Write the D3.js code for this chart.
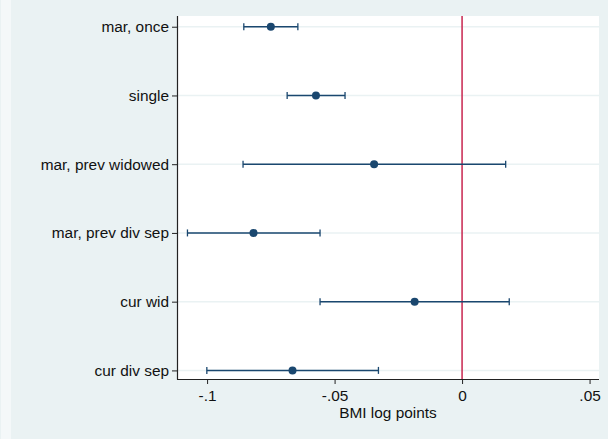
<!DOCTYPE html>
<html>
<head>
<meta charset="utf-8">
<script src="https://cdn.jsdelivr.net/npm/d3@7"></script>
<style>
  body { margin: 0; background: #eaf2f3; }
  svg { display: block; }
</style>
</head>
<body>
<svg id="chart"></svg>
<script>
// Coefficients (BMI log points) with 95% CI
const categories = ['mar, once', 'single', 'mar, prev widowed', 'mar, prev div sep', 'cur wid', 'cur div sep'];
const estimates = [-0.0750, -0.0573, -0.0345, -0.0818, -0.0186, -0.0665];
const ciLow = [-0.0856, -0.0686, -0.0859, -0.1077, -0.0557, -0.1001];
const ciHigh = [-0.0644, -0.0459, 0.0171, -0.0557, 0.0185, -0.0328];
const xTicks = [-0.1, -0.05, 0, 0.05];
const xTickLabels = ['-.1', '-.05', '0', '.05'];

const WIDTH = 608, HEIGHT = 439;
const PLOT = { left: 177, right: 599, top: 16, bottom: 379 };
const BG = '#eaf2f3';
const NAVY = '#1a476f';
const RED = '#c8254f';
const FONT = '"Liberation Sans", Arial, sans-serif';
const FONT_SIZE = '15.4px';

const svg = d3.select('#chart').attr('width', WIDTH).attr('height', HEIGHT);

svg.append('rect').attr('width', WIDTH).attr('height', HEIGHT).attr('fill', BG);
svg.append('rect').attr('x', 1).attr('y', 0).attr('width', 10).attr('height', HEIGHT).attr('fill', '#f4f8f9');

const x = d3.scaleLinear().domain([-0.1118, 0.0537]).range([PLOT.left, PLOT.right]);
const y = d3.scaleLinear().domain([0.844, 6.125]).range([PLOT.top, PLOT.bottom]);

const rows = categories.map((c, i) => ({ name: c, idx: i + 1, est: estimates[i], lo: ciLow[i], hi: ciHigh[i] }));

// plot region
svg.append('rect')
    .attr('x', PLOT.left).attr('y', PLOT.top)
    .attr('width', PLOT.right - PLOT.left).attr('height', PLOT.bottom - PLOT.top)
    .attr('fill', 'white');

// gridlines
svg.append('g').selectAll('line')
    .data(rows).enter().append('line')
    .attr('x1', PLOT.left).attr('x2', PLOT.right)
    .attr('y1', d => y(d.idx)).attr('y2', d => y(d.idx))
    .attr('stroke', BG).attr('stroke-width', 1.5);

// zero line
svg.append('line')
    .attr('x1', x(0)).attr('x2', x(0))
    .attr('y1', PLOT.top).attr('y2', PLOT.bottom)
    .attr('stroke', RED).attr('stroke-width', 1.5);

// CI bars
const g = svg.append('g');
g.selectAll('.ci').data(rows).enter().append('line')
    .attr('x1', d => x(d.lo)).attr('x2', d => x(d.hi))
    .attr('y1', d => y(d.idx)).attr('y2', d => y(d.idx))
    .attr('stroke', NAVY).attr('stroke-width', 1.5);

g.selectAll('.capl').data(rows).enter().append('line')
    .attr('x1', d => x(d.lo)).attr('x2', d => x(d.lo))
    .attr('y1', d => y(d.idx) - 3.5).attr('y2', d => y(d.idx) + 3.5)
    .attr('stroke', NAVY).attr('stroke-width', 1.3);

g.selectAll('.caph').data(rows).enter().append('line')
    .attr('x1', d => x(d.hi)).attr('x2', d => x(d.hi))
    .attr('y1', d => y(d.idx) - 3.5).attr('y2', d => y(d.idx) + 3.5)
    .attr('stroke', NAVY).attr('stroke-width', 1.3);

g.selectAll('circle').data(rows).enter().append('circle')
    .attr('cx', d => x(d.est)).attr('cy', d => y(d.idx))
    .attr('r', 4).attr('fill', NAVY);

// axes
const xAxis = d3.axisBottom(x).tickValues(xTicks)
    .tickFormat((d, i) => xTickLabels[i]).tickSize(5).tickPadding(6);
const xg = svg.append('g').attr('transform', `translate(0,${PLOT.bottom})`).call(xAxis);
xg.select('.domain').attr('d', `M${PLOT.left},0.5H${PLOT.right}`);

const yAxis = d3.axisLeft(y).tickValues(rows.map(d => d.idx))
    .tickFormat((d, i) => categories[i]).tickSize(5).tickPadding(3);
const yg = svg.append('g').attr('transform', `translate(${PLOT.left},0)`).call(yAxis);
yg.select('.domain').attr('d', `M0.5,${PLOT.top}V${PLOT.bottom + 0.5}`);

[xg, yg].forEach(a => {
    a.attr('font-size', null).attr('font-family', null);
    a.selectAll('.domain').attr('stroke', '#222').attr('stroke-width', 1.2);
    a.selectAll('.tick line').attr('stroke', '#222');
    a.selectAll('.tick text').attr('fill', '#111')
        .style('font-family', FONT).style('font-size', FONT_SIZE);
});

svg.append('text')
    .attr('x', (PLOT.left + PLOT.right) / 2).attr('y', 418)
    .attr('text-anchor', 'middle')
    .style('font-family', FONT).style('font-size', FONT_SIZE).attr('fill', '#111')
    .text('BMI log points');
</script>
</body>
</html>
